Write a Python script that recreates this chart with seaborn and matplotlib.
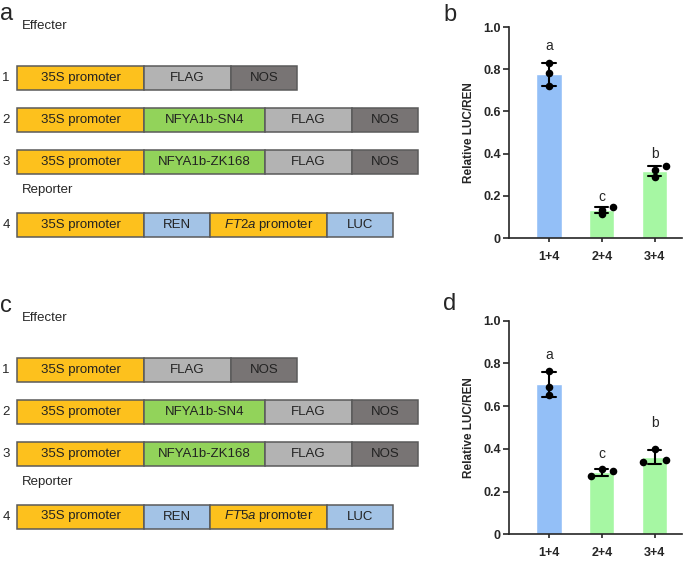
import matplotlib
matplotlib.use("Agg")
import matplotlib.pyplot as plt
from matplotlib.patches import Rectangle
import numpy as np
import pandas as pd
import seaborn as sns

sns.set_style("ticks")
plt.rcParams['font.family'] = ['Liberation Sans', 'DejaVu Sans']
plt.rcParams['mathtext.fontset'] = 'custom'
plt.rcParams['mathtext.rm'] = 'Liberation Sans'
plt.rcParams['mathtext.it'] = 'Liberation Sans:italic'

# --- LUC/REN replicates ---
groups = ["1+4", "2+4", "3+4"]
luc_b = [[0.83, 0.78, 0.72], [0.115, 0.135, 0.145], [0.29, 0.32, 0.34]]
luc_d = [[0.765, 0.69, 0.65], [0.273, 0.304, 0.296], [0.337, 0.40, 0.348]]
# which side of the bar each dot sits on (-1 left, 0 centre, 1 right)
side_b = [[0, 0, 0], [0, 0, 1], [0, 0, 1]]
side_d = [[0, 0, 0], [-1, 0, 1], [-1, 0, 1]]
letters = ["a", "c", "b"]
letter_y_b = [0.91, 0.195, 0.40]
letter_y_d = [0.84, 0.377, 0.523]
yticks = [0, 0.2, 0.4, 0.6, 0.8, 1.0]
ytick_labels = ["0", "0.2", "0.4", "0.6", "0.8", "1.0"]

# --- constructs (segment label, segment length in px) ---
row_names = ["1", "2", "3", "4"]
seg_labels_1 = ["35S promoter", "FLAG", "NOS"]
seg_len_1 = [127, 87, 66]
seg_labels_2 = ["35S promoter", "NFYA1b-SN4", "FLAG", "NOS"]
seg_len_2 = [127, 121, 87, 66]
seg_labels_3 = ["35S promoter", "NFYA1b-ZK168", "FLAG", "NOS"]
seg_len_3 = [127, 121, 87, 66]
seg_labels_4a = ["35S promoter", "REN", "$\\it{FT2a}$ promoter", "LUC"]
seg_labels_4c = ["35S promoter", "REN", "$\\it{FT5a}$ promoter", "LUC"]
seg_len_4 = [127, 66, 117, 66]

orange = "#fdc11d"
colors = {"35S promoter": orange, "FLAG": "#b3b3b3", "NOS": "#787474",
          "NFYA1b-SN4": "#92d35a", "NFYA1b-ZK168": "#92d35a",
          "REN": "#a3c3e6", "LUC": "#a3c3e6"}
bar_blue = "#93bff7"
bar_green = "#a6f7a3"

fig = plt.figure(figsize=(6.85, 5.61), dpi=100)

# overlay in pixel units for the schematics and panel letters
ax_map = fig.add_axes([0, 0, 1, 1])
ax_map.set_xlim(0, 685)
ax_map.set_ylim(561, 0)
ax_map.axis("off")


def draw_construct(y, labels, lengths):
    x = 17
    for lab, w in zip(labels, lengths):
        c = colors.get(lab, orange)
        ax_map.add_patch(Rectangle((x, y - 12), w, 24, facecolor=c,
                                   edgecolor="#5a5a5a", linewidth=1.1))
        ax_map.text(x + w / 2, y, lab, ha="center", va="center", fontsize=9.5,
                    color="#222222")
        x += w


def construct_panel(dy, letter, row4):
    ax_map.text(0, 14 + dy, letter, ha="left", va="center", fontsize=17)
    ax_map.text(22, 26 + dy, "Effecter", ha="left", va="center", fontsize=9.5)
    ax_map.text(22, 190 + dy, "Reporter", ha="left", va="center", fontsize=9.5)
    rows = [(seg_labels_1, seg_len_1), (seg_labels_2, seg_len_2),
            (seg_labels_3, seg_len_3), (row4, seg_len_4)]
    ys = [78, 120, 162, 224.5]
    for name, y, (labs, lens) in zip(row_names, ys, rows):
        ax_map.text(6, y + dy, name, ha="center", va="center", fontsize=9.5)
        draw_construct(y + dy, labs, lens)


construct_panel(0, "a", seg_labels_4a)
construct_panel(292, "c", seg_labels_4c)
ax_map.text(443, 15, "b", ha="left", va="center", fontsize=17)
ax_map.text(443, 304, "d", ha="left", va="center", fontsize=17)


def luc_panel(ax, reps, sides, letter_y):
    df = pd.DataFrame({"group": np.repeat(groups, 3), "value": np.ravel(reps)})
    sns.barplot(data=df, x="group", y="value", hue="group",
                palette=[bar_blue, bar_green, bar_green], saturation=1,
                errorbar="sd", capsize=0.25, width=0.48, legend=False, ax=ax,
                err_kws={"color": "black", "linewidth": 1.5})
    for i, (vals, sd) in enumerate(zip(reps, sides)):
        ax.scatter(i + np.array(sd) * 0.21, vals, s=30, color="black",
                   zorder=5, linewidths=0)
        ax.text(i, letter_y[i], letters[i], ha="center", va="center",
                fontsize=10)
    ax.set_xlim(-0.76, 2.52)
    ax.set_ylim(0, 1.0)
    ax.set_yticks(yticks)
    ax.set_yticklabels(ytick_labels)
    ax.set_xlabel("")
    ax.set_ylabel("Relative LUC/REN", fontsize=8.5, fontweight="bold", labelpad=6)
    sns.despine(ax=ax)
    for s in ["left", "bottom"]:
        ax.spines[s].set_linewidth(1.2)
    ax.tick_params(axis="y", direction="out", length=4, width=1.2, pad=2,
                   labelsize=9)
    ax.tick_params(axis="x", direction="out", length=3, width=1.2, pad=6.5,
                   labelsize=9)
    for t in ax.get_xticklabels() + ax.get_yticklabels():
        t.set_fontweight("bold")


ax_b = fig.add_axes([509 / 685, 1 - 238 / 561, 173 / 685, 211 / 561])
luc_panel(ax_b, luc_b, side_b, letter_y_b)
ax_d = fig.add_axes([509 / 685, 1 - 534.3 / 561, 173 / 685, 213.6 / 561])
luc_panel(ax_d, luc_d, side_d, letter_y_d)

fig.savefig("out.png", dpi=100)
